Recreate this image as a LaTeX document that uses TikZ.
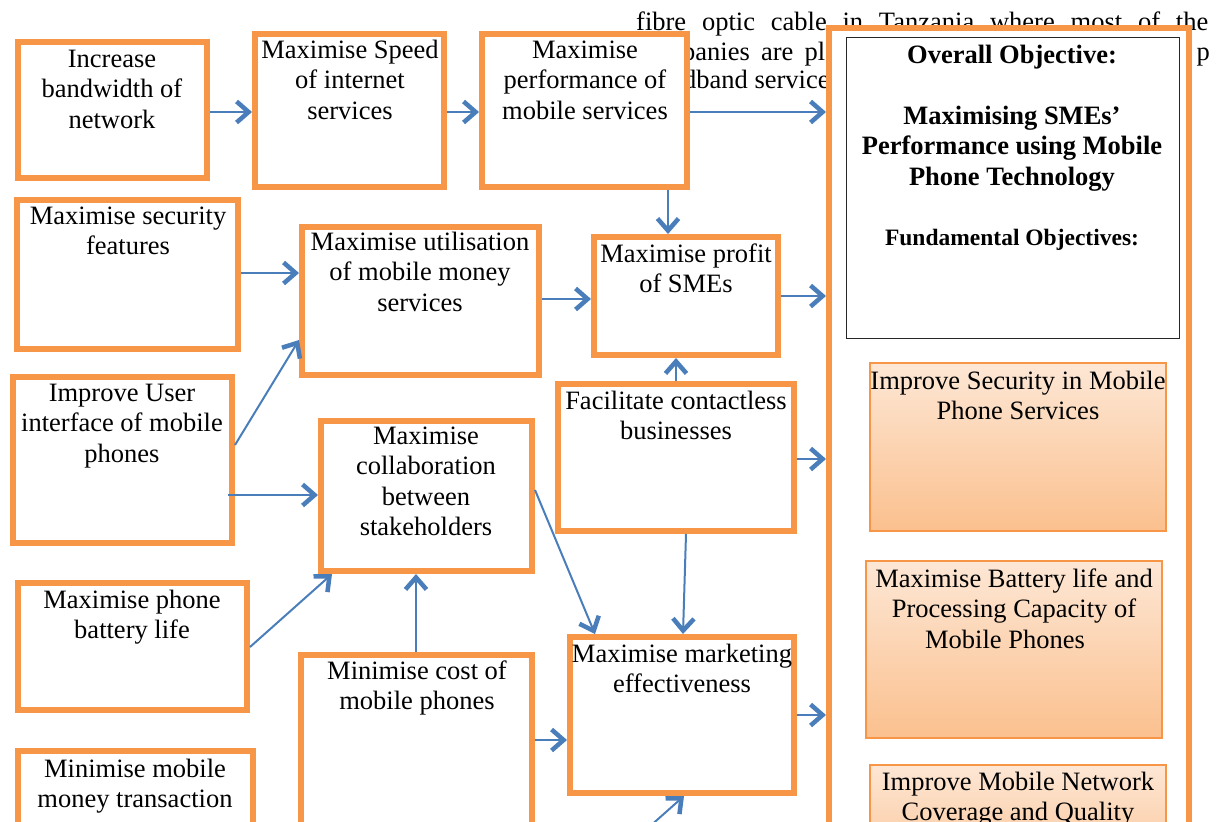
\documentclass[tikz,border=0pt]{standalone}
\usepackage{fontspec}
\setmainfont{Liberation Serif}
\usetikzlibrary{arrows.meta}
\definecolor{boxorange}{HTML}{F79646}
\definecolor{arrowblue}{HTML}{4A7EBB}
\definecolor{peachtop}{HTML}{FDE7D5}
\definecolor{peachbot}{HTML}{FBC08E}
\newcommand\firstln{\rule{0pt}{21pt}}
\begin{document}
\begin{tikzpicture}[x=1pt,y=-1pt,
  obox/.style={draw=boxorange, line width=6pt, fill=white, inner sep=0pt, anchor=north west},
  kbox/.style={draw=black!85, line width=1.3pt, fill=white, inner sep=0pt, anchor=north west},
  gbox/.style={draw=boxorange, line width=2pt, top color=peachtop, bottom color=peachbot, inner sep=0pt, anchor=north west},
  txt/.style={align=center, inner sep=0pt, anchor=north, font=\fontsize{26.5}{30.5}\selectfont},
  boldtxt/.style={align=center, inner sep=0pt, anchor=north, font=\fontsize{26.5}{30.5}\selectfont\bfseries},
  fundtxt/.style={align=center, inner sep=0pt, anchor=north, font=\fontsize{23.5}{28}\selectfont\bfseries},
  bodytxt/.style={inner sep=0pt, font=\fontsize{26.5}{30.5}\selectfont},
  arr/.style={draw=arrowblue, line width=2pt, -{Straight Barb[length=12pt,width=21pt,line width=4.5pt]}}
]
\useasboundingbox (0,0) rectangle (1216,822);
\clip (0,0) rectangle (1216,822);

% background body text
\node[bodytxt, anchor=base west] (bt1) at (636,30) {\makebox[572pt][s]{fibre optic cable in Tanzania where most of the}};
\begin{scope}
\clip (690,35) rectangle (1216,100);
\node[bodytxt, anchor=base west] (bt2) at (682,60) {\makebox[143pt][s]{panies are pl}};
\node[bodytxt, anchor=base west] (bt3) at (683,88) {dband service};
\end{scope}
\node[bodytxt, anchor=base east] (bt2r) at (1210,60) {p};

% left boxes
\node[obox, minimum width=189pt, minimum height=136pt] (A) at (15,39) {};
\node[obox, minimum width=189pt, minimum height=153pt] (B) at (252,31) {};
\node[obox, minimum width=205pt, minimum height=153pt] (C) at (479,31) {};
\node[obox, minimum width=221pt, minimum height=149pt] (D) at (14,197) {};
\node[obox, minimum width=237pt, minimum height=148pt] (E) at (299,224) {};
\node[obox, minimum width=184pt, minimum height=118pt] (F) at (591,234) {};
\node[obox, minimum width=219pt, minimum height=166pt] (G) at (10,374) {};
\node[obox, minimum width=211pt, minimum height=150pt] (H) at (318,418) {};
\node[obox, minimum width=236pt, minimum height=147pt] (I) at (555,381) {};
\node[obox, minimum width=229pt, minimum height=127pt] (J) at (15,580) {};
\node[obox, minimum width=231pt, minimum height=200pt] (K) at (298,652) {};
\node[obox, minimum width=224pt, minimum height=156pt] (L) at (567,634) {};
\node[obox, minimum width=235pt, minimum height=120pt] (M) at (15,748) {};

% right panel
\node[obox, minimum width=360pt, minimum height=900pt] (Big) at (826,25) {};
\node[kbox, minimum width=333pt, minimum height=301pt] (Obj) at (846,37) {};
\node[gbox, minimum width=296pt, minimum height=168pt] (O1) at (869,362) {};
\node[gbox, minimum width=296pt, minimum height=177pt] (O2) at (865,560) {};
\node[gbox, minimum width=296pt, minimum height=120pt] (O3) at (869,764) {};

% texts
\node[txt] (tA) at (112,46) {\firstln Increase\\bandwidth of\\network};
\node[txt] (tB) at (350,37) {\firstln Maximise Speed\\of internet\\services};
\node[txt] (tC) at (585,37) {\firstln Maximise\\performance of\\mobile services};
\node[txt] (tD) at (128,203) {\firstln Maximise security\\features};
\node[txt] (tE) at (420,229) {\firstln Maximise utilisation\\of mobile money\\services};
\node[txt] (tF) at (686,241) {\firstln Maximise profit\\of SMEs};
\node[txt] (tG) at (122,380) {\firstln Improve User\\interface of mobile\\phones};
\node[txt] (tH) at (426,423) {\firstln Maximise\\collaboration\\between\\stakeholders};
\node[txt] (tI) at (676,388) {\firstln Facilitate contactless\\businesses};
\node[txt] (tJ) at (132,587) {\firstln Maximise phone\\battery life};
\node[txt] (tK) at (417,658) {\firstln Minimise cost of\\mobile phones};
\node[txt] (tL) at (682,641) {\firstln Maximise marketing\\effectiveness};
\node[txt] (tM) at (135,756) {\firstln Minimise mobile\\money transaction};

\node[boldtxt] (tOv) at (1012,42) {\firstln Overall Objective:};
\node[boldtxt] (tMs) at (1012,103) {\firstln Maximising SMEs’\\Performance using Mobile\\Phone Technology};
\node[fundtxt] (tFo) at (1012,224) {\firstln Fundamental Objectives:};
\node[txt] (tO1) at (1018,368) {\firstln Improve Security in Mobile\\Phone Services};
\node[txt] (tO2) at (1014,566) {\firstln Maximise Battery life and\\Processing Capacity of\\Mobile Phones\hspace*{18pt}};
\node[txt] (tO3) at (1018,769) {\firstln Improve Mobile Network\\Coverage and Quality};

% connectors
\coordinate (lowsrc) at (648,828);
\draw[arr] (A.east |- 0,112) -- (B.west |- 0,112);
\draw[arr] (B.east |- 0,112) -- (C.west |- 0,112);
\draw[arr] (C.east |- 0,112) -- (Big.west |- 0,112);
\draw[arr] (C.south -| 668,0) -- (F.north -| 668,0);
\draw[arr] (D.east |- 0,273) -- (E.west |- 0,273);
\draw[arr] (G.east |- 0,445) -- (E.west |- 0,340);
\draw[arr] ([xshift=-7pt]G.east |- 0,495) -- (H.west |- 0,495);
\draw[arr] (E.east |- 0,299) -- (F.west |- 0,299);
\draw[arr] (F.east |- 0,296) -- (Big.west |- 0,296);
\draw[arr] (I.north -| 676,0) -- (F.south -| 676,0);
\draw[arr] (I.east |- 0,459) -- (Big.west |- 0,459);
\draw[arr] (H.east |- 0,490) -- (L.north -| 595,0);
\draw[arr] (I.south -| 686,0) -- (L.north -| 683,0);
\draw[arr] (J.east |- 0,647) -- (H.south -| 332,0);
\draw[arr] (K.north -| 416,0) -- (H.south -| 416,0);
\draw[arr] (K.east |- 0,740) -- (L.west |- 0,740);
\draw[arr] (L.east |- 0,715) -- (Big.west |- 0,715);
\draw[arr] (lowsrc) -- (L.south -| 684,0);
\end{tikzpicture}
\end{document}
